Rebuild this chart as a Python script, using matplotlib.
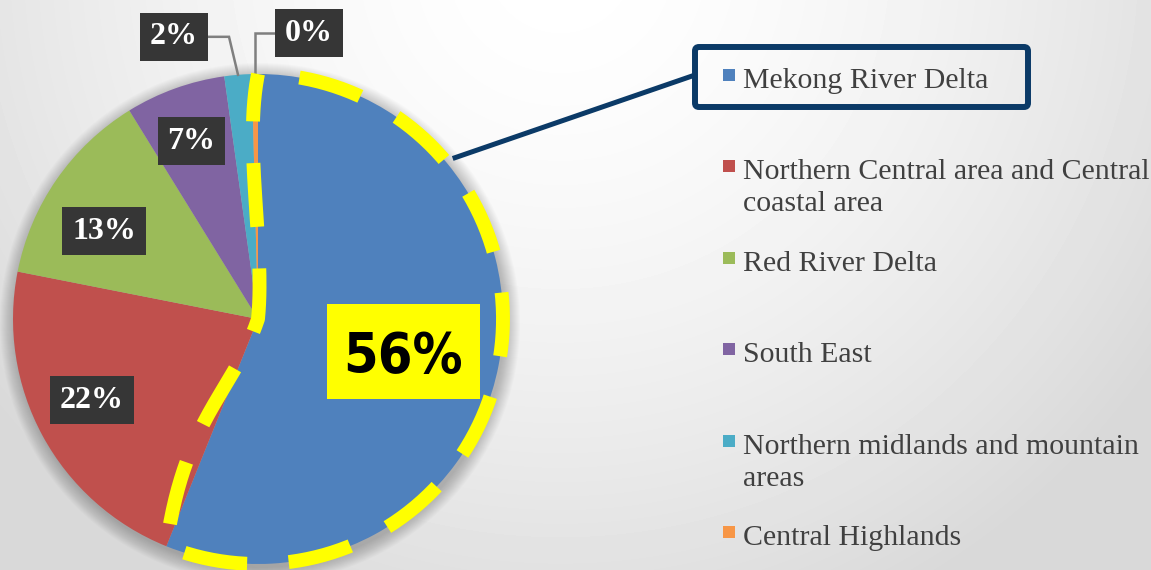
import numpy as np
import matplotlib
matplotlib.use("Agg")
import matplotlib.pyplot as plt
from matplotlib.patches import Circle, Rectangle, FancyBboxPatch
from matplotlib.font_manager import FontProperties, findfont

# Data
regions = [
    "Mekong River Delta",
    "Northern Central area and Central\ncoastal area",
    "Red River Delta",
    "South East",
    "Northern midlands and mountain\nareas",
    "Central Highlands",
]
shares = [56.1, 22.0, 13.1, 6.6, 1.8, 0.4]
pct_labels = ["56%", "22%", "13%", "7%", "2%", "0%"]
colors = ["#4F81BD", "#C0504D", "#9BBB59", "#8064A2", "#4BACC6", "#F79646"]

# Layout (pixels, y up)
W, H = 1151, 570
CX, CY, R = 258, 570 - 319, 245
SERIF = ["Liberation Serif", "DejaVu Serif"]


def bezier(p0, p1, p2, p3, n=60):
    t = np.linspace(0, 1, n)[:, None]
    return ((1 - t) ** 3 * p0 + 3 * (1 - t) ** 2 * t * p1
            + 3 * (1 - t) * t ** 2 * p2 + t ** 3 * p3)


def narrow_font():
    # try to find a condensed bold sans; fall back to a smaller regular one
    for fam in ["Liberation Sans Narrow", "DejaVu Sans"]:
        try:
            fp = FontProperties(family=fam, weight="bold", stretch="condensed")
            f = findfont(fp, fallback_to_default=False)
            if "Narrow" in f:
                return FontProperties(fname=f, size=46), 46
            if "Condensed" in f:
                return FontProperties(fname=f, size=40), 40
        except Exception:
            pass
    return FontProperties(family="Liberation Sans", weight="bold", size=38), 38


fig = plt.figure(figsize=(W / 100, H / 100), dpi=100)
ax = fig.add_axes([0, 0, 1, 1])

# background gradient
yy, xx = np.mgrid[0:H, 0:W]
d = np.hypot(xx - 560, yy - (H + 40))
gray = 1 - 0.15 * np.clip(d / 720, 0, 1) ** 1.6
ax.imshow(gray, cmap="gray", vmin=0, vmax=1, extent=[0, W, 0, H],
          origin="lower", zorder=0, interpolation="bilinear")

# soft pie shadow
for k in range(16):
    ax.add_patch(Circle((CX + 2, CY - 4), R + k, color="k", alpha=0.016,
                        lw=0, zorder=1))

wedges, _ = ax.pie(shares, colors=colors, startangle=90, counterclock=False,
                   center=(CX, CY), radius=R, wedgeprops=dict(linewidth=0))
for w in wedges:
    w.set_zorder(2)

ax.set_xlim(0, W)
ax.set_ylim(0, H)
ax.set_aspect("auto")
ax.axis("off")

mids = [np.deg2rad((w.theta1 + w.theta2) / 2) for w in wedges]
box_style = dict(boxstyle="square,pad=0.3", fc="#363636", ec="none")

# inside labels: (radius fraction, angle tweak in degrees)
inner = {1: (0.754, -2.4), 2: (0.724, 5.0), 3: (0.776, 0.8)}
for i, (rf, dt) in inner.items():
    a = mids[i] + np.deg2rad(dt)
    ax.text(CX + rf * R * np.cos(a), CY + rf * R * np.sin(a), pct_labels[i],
            ha="center", va="center", color="white", fontsize=23,
            fontweight="bold", family=SERIF, zorder=6, bbox=box_style)

# outside labels with leader lines: offset from wedge edge point
outer = {4: (-64, 38), 5: (54, 41)}
for i, (ox, oy) in outer.items():
    ex, ey = CX + R * np.cos(mids[i]), CY + R * np.sin(mids[i])
    lx, ly = ex + ox, ey + oy
    t = ax.text(lx, ly, pct_labels[i], ha="center", va="center",
                color="white", fontsize=23, fontweight="bold", family=SERIF,
                zorder=6, bbox=box_style)
    fig.canvas.draw()
    bb = t.get_bbox_patch().get_window_extent()
    bb = bb.transformed(ax.transData.inverted())
    if ox < 0:
        xs = [bb.x1, ex - 9, ex]
    else:
        xs = [bb.x0, ex, ex]
    ax.plot(xs, [ly, ly, ey], color="#7f7f7f", lw=1.8, zorder=3,
            solid_joinstyle="miter")

# big highlighted label for the first slice
a = mids[0] + np.deg2rad(-1.8)
bx, by = CX + 0.607 * R * np.cos(a), CY + 0.607 * R * np.sin(a)
ax.add_patch(Rectangle((bx - 76.5, by - 47.5), 153, 95, fc="#FFFF00",
                       ec="none", zorder=6))
fprop, fsize = narrow_font()
cap = 0.72 * fsize * 100 / 72
ax.text(bx, by - cap / 2, pct_labels[0], ha="center", va="baseline",
        color="black", fontproperties=fprop, zorder=7)

# yellow dashed outline around the first slice
th = np.deg2rad(np.linspace(wedges[0].theta2, wedges[0].theta1, 200))
arc = np.column_stack([CX + R * np.cos(th), CY + R * np.sin(th)])
ctr = np.array([CX, CY])
low = bezier(arc[-1], ctr + R * np.array([-0.30, -0.40]),
             ctr + R * np.array([-0.10, -0.30]), ctr)
up = bezier(ctr, ctr + R * np.array([0.03, 0.30]),
            ctr + R * np.array([-0.06, 0.70]), ctr + R * np.array([0, 1.0]))
path = np.vstack([arc, low, up])
ax.plot(path[:, 0], path[:, 1], color="#FFFF00", lw=10,
        linestyle=(4.6, (4.6, 3.0)), dash_capstyle="butt", zorder=5)

# legend
navy = "#0B3A67"
for i, lab in enumerate(regions):
    y = H - (88 + 91.4 * i)
    ax.scatter(729, y + 13, marker="s", s=72, color=colors[i], lw=0, zorder=4)
    for j, line in enumerate(lab.split("\n")):
        ax.text(743, y - 32 * j, line, ha="left", va="baseline",
                fontsize=21.5, family=SERIF, color="#404040", zorder=4)

# highlight box on the first legend entry and connector
ax.add_patch(FancyBboxPatch((695, H - 107), 333, 60,
                            boxstyle="round,pad=0,rounding_size=4",
                            fc="none", ec=navy, lw=4.3, zorder=4))
ca = np.deg2rad(39.5)
ax.plot([CX + 1.03 * R * np.cos(ca), 695], [CY + 1.03 * R * np.sin(ca), H - 75],
        color=navy, lw=3.6, solid_capstyle="butt", zorder=4)

fig.savefig("out.png", dpi=100)
